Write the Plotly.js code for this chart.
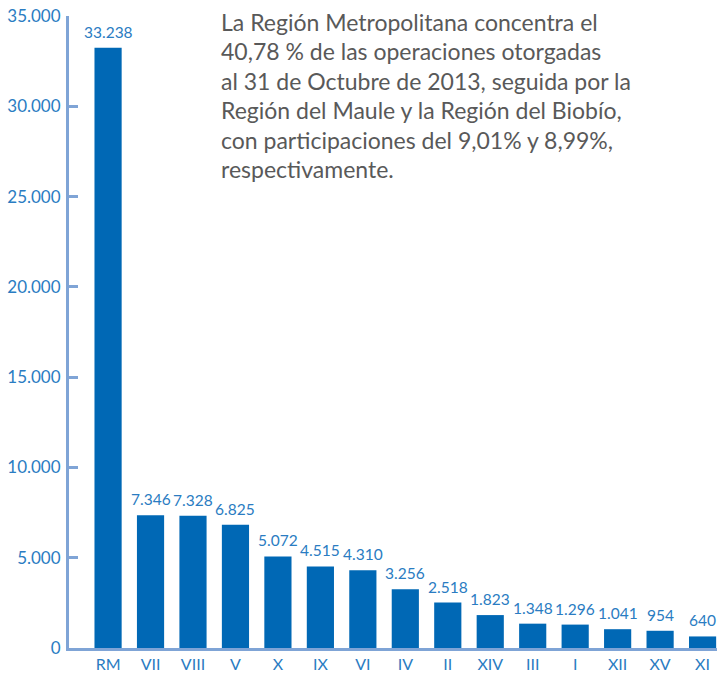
<!DOCTYPE html>
<html>
<head>
<meta charset="utf-8">
<script src="https://cdn.plot.ly/plotly-3.0.1.min.js"></script>
<style>
html,body{margin:0;padding:0;background:#fff;}
#chart{width:717px;height:682px;}
</style>
</head>
<body>
<div id="chart"></div>
<script>
const regions = ["RM","VII","VIII","V","X","IX","VI","IV","II","XIV","III","I","XII","XV","XI"];
const operaciones = [33238,7346,7328,6825,5072,4515,4310,3256,2518,1823,1348,1296,1041,954,640];
const yTicks = [0,5000,10000,15000,20000,25000,30000,35000];
const notaLineas = [
  "La Región Metropolitana concentra el",
  "40,78 % de las operaciones otorgadas",
  "al 31 de Octubre de 2013, seguida por la",
  "Región del Maule y la Región del Biobío,",
  "con participaciones del 9,01% y 8,99%,",
  "respectivamente."
];

const BLUE = "#0068b5";
const TXT = "#2a7cc2";
const AX = "#7fa4d6";
const FONT = "Lato, 'Open Sans', sans-serif";
const H = 682, MT = 16, MB = 34, PH = H - MT - MB;

function fmt(v){ return String(v).replace(/\B(?=(\d{3})+(?!\d))/g, "."); }
function paperY(px){ return 1 - (px - MT) / PH; }

const annotations = regions.map((r,i)=>({
  x: r, y: operaciones[i], xref:"x", yref:"y",
  text: fmt(operaciones[i]), showarrow:false,
  yanchor:"bottom", yshift:5,
  font:{family:FONT, size:15.5, color:TXT}
}));
notaLineas.forEach((t,i)=>{
  annotations.push({
    xref:"paper", yref:"paper", x:0.232, y:paperY(22 + 29.4*i),
    xanchor:"left", yanchor:"middle", align:"left", showarrow:false, text:t,
    font:{family:FONT, size:23, color:"#595959"}
  });
});

Plotly.newPlot("chart", [{
  type:"bar", x:regions, y:operaciones,
  marker:{color:BLUE}, hoverinfo:"x+y"
}], {
  width:717, height:H,
  margin:{l:69, r:0, t:MT, b:MB, pad:0},
  paper_bgcolor:"#fff", plot_bgcolor:"#fff",
  separators:",.",
  bargap:0.36,
  showlegend:false,
  xaxis:{
    type:"category", range:[-0.92,14.34],
    showline:true, linecolor:AX, linewidth:2.5,
    ticks:"", showgrid:false, zeroline:false,
    tickfont:{family:FONT, size:16, color:TXT}
  },
  yaxis:{
    range:[0,35000], tickvals:yTicks, tickformat:",d",
    showline:true, linecolor:AX, linewidth:3,
    ticks:"inside", ticklen:9, tickwidth:3, tickcolor:AX,
    showgrid:false, zeroline:false, ticklabelstandoff:2,
    tickfont:{family:FONT, size:17, color:TXT}
  },
  annotations: annotations
}, {displayModeBar:false, staticPlot:true});
</script>
</body>
</html>
